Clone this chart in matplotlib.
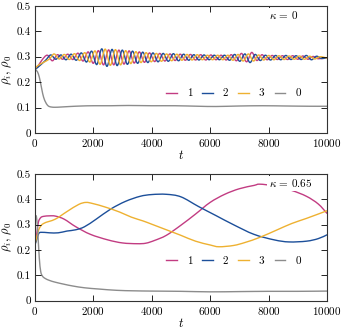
import numpy as np
import matplotlib
matplotlib.use("Agg")
import matplotlib.pyplot as plt
from matplotlib.path import Path
from matplotlib.patches import PathPatch
from matplotlib.lines import Line2D

plt.rcParams['font.family'] = 'serif'
plt.rcParams['font.serif'] = ['cmr10', 'DejaVu Serif']
plt.rcParams['mathtext.fontset'] = 'cm'
plt.rcParams['axes.formatter.use_mathtext'] = True
plt.rcParams['font.size'] = 8

C1, C2, C3, C0 = '#c23c82', '#1c4f9a', '#eeb131', '#8c8c8c'

# ---------------- top panel (kappa = 0) ----------------
top_t1 = [0, 100] + list(np.arange(250, 9701, 175)) + [10000]
top_v1 = [0.25, 0.262,
          0.288, 0.306, 0.284, 0.308, 0.290, 0.310, 0.289, 0.314, 0.283, 0.319,
          0.274, 0.324, 0.268, 0.327, 0.268, 0.326, 0.271, 0.323, 0.275, 0.319,
          0.278, 0.315, 0.281, 0.313, 0.283, 0.311, 0.285, 0.310, 0.286, 0.309,
          0.287, 0.308, 0.287, 0.307, 0.288, 0.306, 0.287, 0.308, 0.284, 0.313,
          0.280, 0.317, 0.285, 0.308, 0.288, 0.305, 0.289, 0.304, 0.289, 0.304,
          0.290, 0.303, 0.290, 0.301, 0.292,
          0.296]
top_t2 = [0, 100] + list(np.arange(367, 9818, 175)) + [10000]
top_v2 = [0.25, 0.258,
          0.286, 0.307, 0.290, 0.307, 0.288, 0.310, 0.286, 0.315, 0.279, 0.322,
          0.269, 0.331, 0.262, 0.329, 0.265, 0.326, 0.270, 0.322, 0.274, 0.318,
          0.277, 0.315, 0.280, 0.313, 0.282, 0.312, 0.284, 0.310, 0.286, 0.308,
          0.287, 0.307, 0.288, 0.306, 0.288, 0.306, 0.286, 0.309, 0.282, 0.311,
          0.277, 0.309, 0.285, 0.306, 0.287, 0.305, 0.288, 0.305, 0.289, 0.304,
          0.289, 0.305, 0.288, 0.302, 0.293,
          0.296]
top_t3 = [0, 100] + list(np.arange(483, 9759, 175)) + [10000]
top_v3 = [0.25, 0.265,
          0.290, 0.311, 0.291, 0.309, 0.289, 0.312, 0.285, 0.316, 0.279, 0.323,
          0.270, 0.330, 0.266, 0.328, 0.268, 0.324, 0.273, 0.320, 0.277, 0.316,
          0.280, 0.313, 0.282, 0.311, 0.284, 0.310, 0.286, 0.309, 0.287, 0.308,
          0.288, 0.306, 0.288, 0.306, 0.288, 0.306, 0.286, 0.309, 0.283, 0.311,
          0.283, 0.307, 0.287, 0.305, 0.288, 0.304, 0.289, 0.303, 0.290, 0.303,
          0.290, 0.302, 0.291, 0.300,
          0.295]
top_t0 = [0, 60, 120, 180, 240, 300, 380, 460, 560, 700, 900, 1200, 1600, 2000,
          2600, 3200, 4000, 4800, 5600, 6200, 7000, 7800, 8600, 9400, 10000]
top_v0 = [0.25, 0.245, 0.232, 0.205, 0.170, 0.140, 0.118, 0.106, 0.102, 0.101,
          0.102, 0.104, 0.106, 0.107, 0.107, 0.108, 0.107, 0.107, 0.105, 0.104,
          0.106, 0.107, 0.106, 0.105, 0.105]

# ---------------- bottom panel (kappa = 0.65) ----------------
bot_t1 = [0, 60, 120, 200, 300, 500, 700, 1000, 1400, 1900, 2500, 3000, 3500,
          3800, 4100, 4500, 5000, 5500, 6000, 6500, 7000, 7500, 7700, 8200,
          8800, 9300, 9700, 10000]
bot_v1 = [0.22, 0.26, 0.31, 0.328, 0.333, 0.335, 0.334, 0.322, 0.292, 0.262,
          0.240, 0.228, 0.225, 0.227, 0.238, 0.258, 0.298, 0.342, 0.388, 0.420,
          0.442, 0.455, 0.460, 0.453, 0.435, 0.412, 0.382, 0.345]
bot_t2 = [0, 60, 120, 200, 500, 800, 1100, 1400, 1700, 2100, 2600, 3100, 3600,
          4000, 4500, 5000, 5600, 6200, 6800, 7500, 8200, 8700, 9300, 9700, 10000]
bot_v2 = [0.22, 0.24, 0.262, 0.270, 0.268, 0.268, 0.275, 0.280, 0.292, 0.322,
          0.362, 0.392, 0.412, 0.419, 0.420, 0.410, 0.372, 0.336, 0.300, 0.262,
          0.240, 0.232, 0.235, 0.245, 0.260]
bot_t3 = [0, 60, 150, 300, 700, 1100, 1500, 1750, 2000, 2400, 2900, 3300,
          3700, 4000, 4500, 5000, 5500, 6000, 6300, 6800, 7200, 7700, 8300,
          8800, 9300, 10000]
bot_v3 = [0.22, 0.25, 0.285, 0.305, 0.322, 0.352, 0.380, 0.388, 0.383, 0.370,
          0.350, 0.330, 0.315, 0.302, 0.280, 0.258, 0.235, 0.220, 0.213, 0.218,
          0.230, 0.250, 0.280, 0.305, 0.325, 0.355]
bot_t0 = [0, 30, 60, 100, 150, 200, 260, 350, 500, 700, 1000, 1300, 1700, 2200,
          2800, 3400, 4000, 5000, 6000, 7000, 8000, 9000, 10000]
bot_v0 = [0.31, 0.335, 0.325, 0.27, 0.17, 0.115, 0.097, 0.088, 0.080, 0.073,
          0.065, 0.058, 0.051, 0.046, 0.041, 0.039, 0.038, 0.037, 0.035, 0.036,
          0.037, 0.037, 0.038]

xticks = [0, 2000, 4000, 6000, 8000, 10000]
yticks = [0, 0.1, 0.2, 0.3, 0.4, 0.5]


def smooth_path(t, v):
    """Cubic Bezier path through the given data points (Catmull-Rom tangents)."""
    P = np.column_stack([np.asarray(t, float), np.asarray(v, float)])
    n = len(P)
    verts = [P[0]]
    codes = [Path.MOVETO]
    for i in range(n - 1):
        p0 = P[i - 1] if i > 0 else P[i]
        p1, p2 = P[i], P[i + 1]
        p3 = P[i + 2] if i + 2 < n else P[i + 1]
        c1 = p1 + (p2 - p0) / 6.0
        c2 = p2 - (p3 - p1) / 6.0
        verts += [c1, c2, p2]
        codes += [Path.CURVE4] * 3
    return Path(verts, codes)


fig = plt.figure(figsize=(3.42, 3.29), dpi=100)
ax1 = fig.add_axes([0.102, 0.596, 0.854, 0.386])
ax2 = fig.add_axes([0.102, 0.086, 0.854, 0.385])

panels = [
    (ax1, [(top_t1, top_v1, C1, '1'), (top_t2, top_v2, C2, '2'),
           (top_t3, top_v3, C3, '3'), (top_t0, top_v0, C0, '0')], r'$\kappa\,=\,0$'),
    (ax2, [(bot_t1, bot_v1, C1, '1'), (bot_t2, bot_v2, C2, '2'),
           (bot_t3, bot_v3, C3, '3'), (bot_t0, bot_v0, C0, '0')], r'$\kappa\,=\,0.65$'),
]

for ax, series, lab in panels:
    handles = []
    for t, v, c, name in series:
        ax.add_patch(PathPatch(smooth_path(t, v), facecolor='none',
                               edgecolor=c, lw=1.0, capstyle='round',
                               joinstyle='round'))
        handles.append(Line2D([], [], color=c, lw=1.0, label=name))
    ax.set_xlim(0, 10000)
    ax.set_ylim(0, 0.5)
    ax.set_xticks(xticks)
    ax.set_yticks(yticks)
    ax.set_yticklabels(['0', '0.1', '0.2', '0.3', '0.4', '0.5'])
    ax.tick_params(direction='in', top=True, right=True, length=4, width=0.6,
                   labelsize=8, pad=3)
    for s in ax.spines.values():
        s.set_linewidth(0.8)
        s.set_color('#333333')
    ax.set_xlabel(r'$t$', fontsize=9, labelpad=0)
    ax.set_ylabel(r'$\rho_i,\,\rho_0$', fontsize=9, labelpad=2)
    ax.text(0.80, 0.975, lab, transform=ax.transAxes, ha='left', va='top',
            fontsize=8, bbox=dict(facecolor='white', edgecolor='none', pad=1))
    ax.legend(handles=handles, loc='center right', bbox_to_anchor=(0.91, 0.31),
              ncol=4, frameon=False, handlelength=0.95, handletextpad=0.9,
              columnspacing=0.9, fontsize=8, borderaxespad=0,
              borderpad=0)

fig.savefig('out.png', dpi=100)
